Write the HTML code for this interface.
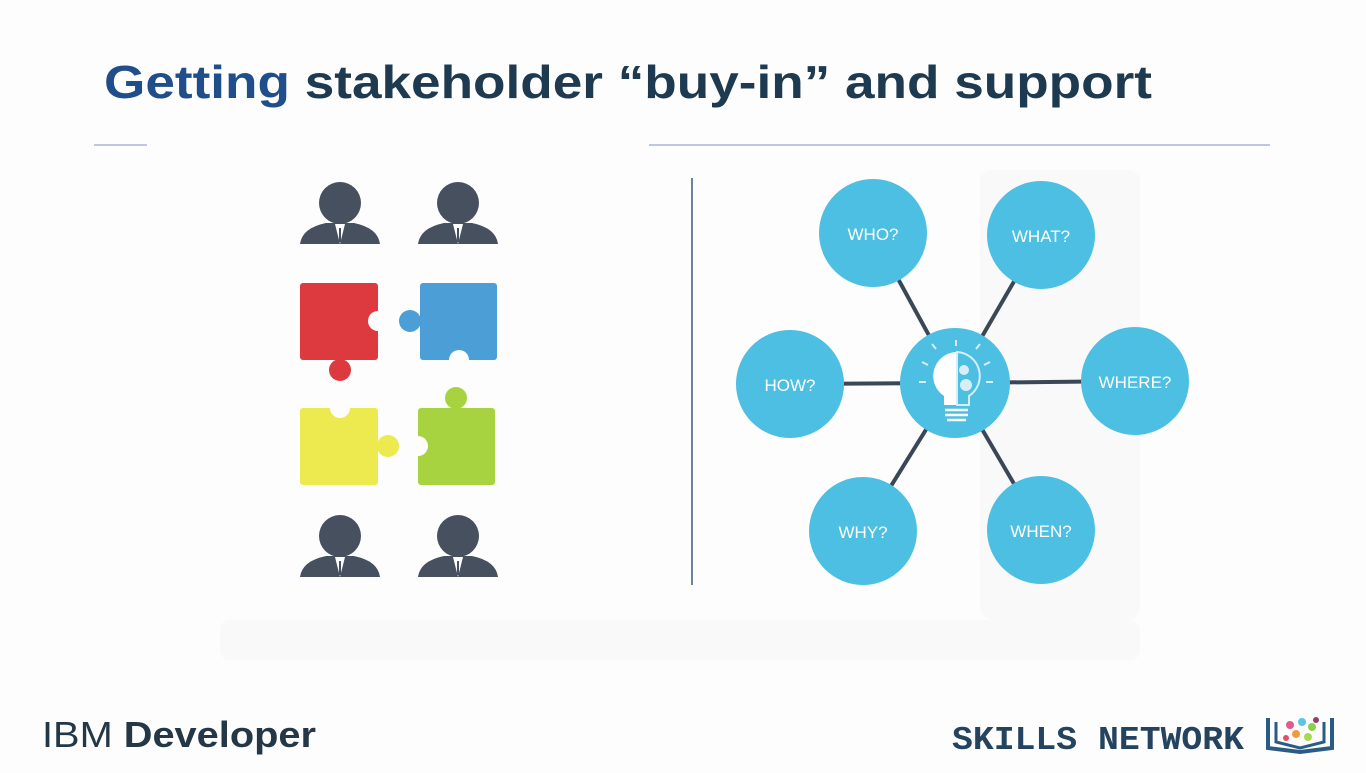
<!DOCTYPE html>
<html><head><meta charset="utf-8"><style>
body{margin:0;width:1366px;height:768px;overflow:hidden;background:#fdfdfd;font-family:"Liberation Sans",sans-serif}
</style></head><body>
<svg width="1366" height="768" viewBox="0 0 1366 768">
<rect width="1366" height="768" fill="#fdfdfd"/>
<g opacity="0.25">
<rect x="220" y="620" width="920" height="40" rx="10" fill="#f0f0f3"/>
<rect x="980" y="170" width="160" height="450" rx="12" fill="#f0f0f3"/>
</g>
<text x="104" y="98" font-size="46" font-weight="bold" textLength="1048" lengthAdjust="spacingAndGlyphs"><tspan fill="#1f4e8a">Getting</tspan><tspan fill="#1d3a50"> stakeholder “buy-in” and support</tspan></text>
<line x1="94" y1="145" x2="147" y2="145" stroke="#a8b6d6" stroke-width="1.5"/>
<line x1="649" y1="145" x2="1270" y2="145" stroke="#a8b6d6" stroke-width="1.5"/>
<line x1="692" y1="178" x2="692" y2="585" stroke="#3d5a80" stroke-width="1.5"/>

<g>
<g transform="translate(340,0)">
<circle cx="0" cy="203" r="21" fill="#46505e"/><path d="M-40 244 Q-38 228 -14 223 L14 223 Q38 228 40 244 Z" fill="#46505e"/><path d="M-5 224 L0 244 L5 224 Z" fill="#fff"/><line x1="0" y1="228" x2="0" y2="242" stroke="#46505e" stroke-width="2"/></g>
<g transform="translate(458,0)">
<circle cx="0" cy="203" r="21" fill="#46505e"/><path d="M-40 244 Q-38 228 -14 223 L14 223 Q38 228 40 244 Z" fill="#46505e"/><path d="M-5 224 L0 244 L5 224 Z" fill="#fff"/><line x1="0" y1="228" x2="0" y2="242" stroke="#46505e" stroke-width="2"/></g>
<g transform="translate(340,333)">
<circle cx="0" cy="203" r="21" fill="#46505e"/><path d="M-40 244 Q-38 228 -14 223 L14 223 Q38 228 40 244 Z" fill="#46505e"/><path d="M-5 224 L0 244 L5 224 Z" fill="#fff"/><line x1="0" y1="228" x2="0" y2="242" stroke="#46505e" stroke-width="2"/></g>
<g transform="translate(458,333)">
<circle cx="0" cy="203" r="21" fill="#46505e"/><path d="M-40 244 Q-38 228 -14 223 L14 223 Q38 228 40 244 Z" fill="#46505e"/><path d="M-5 224 L0 244 L5 224 Z" fill="#fff"/><line x1="0" y1="228" x2="0" y2="242" stroke="#46505e" stroke-width="2"/></g>
<g><rect x="300" y="283" width="78" height="77" rx="3" fill="#dc3a3f"/><circle cx="340" cy="370" r="11" fill="#dc3a3f"/><circle cx="378" cy="321" r="10" fill="#fdfdfd"/></g>
<g><rect x="420" y="283" width="77" height="77" rx="3" fill="#4b9fd6"/><circle cx="410" cy="321" r="11" fill="#4b9fd6"/><circle cx="459" cy="360" r="10" fill="#fdfdfd"/></g>
<g><rect x="300" y="408" width="78" height="77" rx="3" fill="#ecea4e"/><circle cx="388" cy="446" r="11" fill="#ecea4e"/><circle cx="340" cy="408" r="10" fill="#fdfdfd"/></g>
<g><rect x="418" y="408" width="77" height="77" rx="3" fill="#a6d33f"/><circle cx="456" cy="398" r="11" fill="#a6d33f"/><circle cx="418" cy="446" r="10" fill="#fdfdfd"/></g>
</g>

<g font-family="Liberation Sans, sans-serif" font-size="17" fill="#fff" text-anchor="middle">
<g stroke="#3a4756" stroke-width="4">
<line x1="955" y1="383" x2="873" y2="233"/><line x1="955" y1="383" x2="1041" y2="235"/>
<line x1="955" y1="383" x2="790" y2="384"/><line x1="955" y1="383" x2="1135" y2="381"/>
<line x1="955" y1="383" x2="863" y2="531"/><line x1="955" y1="383" x2="1041" y2="530"/>
</g>
<g><circle cx="873" cy="233" r="54" fill="#4cbfe2"/><text x="873" y="240">WHO?</text></g>
<g><circle cx="1041" cy="235" r="54" fill="#4cbfe2"/><text x="1041" y="242">WHAT?</text></g>
<g><circle cx="790" cy="384" r="54" fill="#4cbfe2"/><text x="790" y="391">HOW?</text></g>
<g><circle cx="1135" cy="381" r="54" fill="#4cbfe2"/><text x="1135" y="388">WHERE?</text></g>
<g><circle cx="863" cy="531" r="54" fill="#4cbfe2"/><text x="863" y="538">WHY?</text></g>
<g><circle cx="1041" cy="530" r="54" fill="#4cbfe2"/><text x="1041" y="537">WHEN?</text></g>
<g>
<circle cx="955" cy="383" r="55" fill="#4cbfe2"/>
<path d="M956 352 A24 24 0 0 0 944 396 L944 405 L956 405 Z" fill="#fff"/>
<path d="M957 352 A24 24 0 0 1 969 396 L969 405 L957 405 Z" fill="none" stroke="#d8eef6" stroke-width="2"/>
<circle cx="964" cy="370" r="5" fill="#d8eef6"/><circle cx="966" cy="385" r="6" fill="#d8eef6"/>
<g stroke="#fff" stroke-width="2.5"><line x1="945" y1="410" x2="968" y2="410"/><line x1="945" y1="415" x2="968" y2="415"/><line x1="947" y1="420" x2="966" y2="420"/></g>
<g stroke="#d8eef6" stroke-width="2"><line x1="956" y1="340" x2="956" y2="346"/><line x1="928" y1="365" x2="922" y2="362"/><line x1="984" y1="365" x2="990" y2="362"/><line x1="926" y1="382" x2="919" y2="382"/><line x1="986" y1="382" x2="993" y2="382"/><line x1="936" y1="349" x2="932" y2="344"/><line x1="976" y1="349" x2="980" y2="344"/></g>
</g>
</g>

<text x="42" y="747" font-size="36" fill="#243747" textLength="274" lengthAdjust="spacingAndGlyphs">IBM <tspan font-weight="bold">Developer</tspan></text>
<text x="952" y="749" font-size="33" font-weight="bold" fill="#23435f" font-family="Liberation Mono, monospace" textLength="292" lengthAdjust="spacingAndGlyphs">SKILLS NETWORK</text>
<g>
<path d="M1268 718 L1268 748 L1300 752 L1332 748 L1332 718" fill="none" stroke="#2a5b86" stroke-width="4"/>
<path d="M1276 722 L1276 742 L1300 748 L1324 742 L1324 722" fill="none" stroke="#2a5b86" stroke-width="3"/>
<circle cx="1290" cy="725" r="4" fill="#e05a8a"/><circle cx="1302" cy="722" r="4" fill="#5cc3e8"/><circle cx="1312" cy="727" r="4" fill="#8cd04a"/><circle cx="1296" cy="734" r="4" fill="#f29b38"/><circle cx="1308" cy="737" r="4" fill="#a7d94a"/><circle cx="1286" cy="738" r="3" fill="#e84a6a"/><circle cx="1316" cy="720" r="3" fill="#9a3a6a"/>
</g>
</svg>
</body></html>
